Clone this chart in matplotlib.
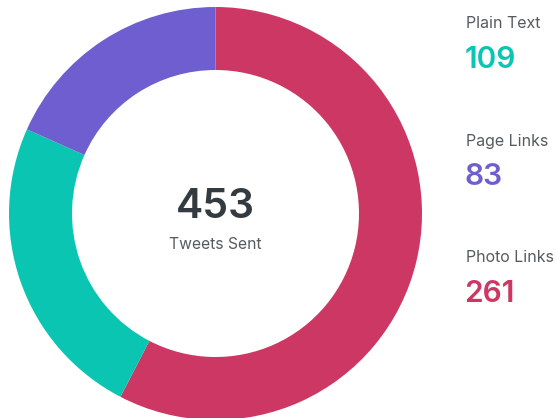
import matplotlib
matplotlib.use("Agg")
import matplotlib.pyplot as plt

# data
categories = ["Photo Links", "Plain Text", "Page Links"]
values = [261, 109, 83]
colors = ["#CC3764", "#0BC5B3", "#6F5ECF"]
legend_order = ["Plain Text", "Page Links", "Photo Links"]
total = sum(values)
center_label = "Tweets Sent"

W, H = 557, 418
fig = plt.figure(figsize=(W / 100, H / 100), dpi=100)
ax = fig.add_axes([0, 0, 1, 1])

cx, cy, r_out, r_in = 215.5, H - 213.5, 206.5, 143.5
ax.pie(values, colors=colors, startangle=90, counterclock=False,
       center=(cx, cy), radius=r_out,
       wedgeprops=dict(width=r_out - r_in, linewidth=0))
ax.set_xlim(0, W)
ax.set_ylim(0, H)
ax.set_aspect("equal")
ax.axis("off")

font = "Inter"
ax.text(cx, H - 218, f"{total}", ha="center", va="baseline", fontsize=29.5,
        fontweight="semibold", color="#333B40", family=font)
ax.text(cx, H - 249, center_label, ha="center", va="baseline", fontsize=11.3,
        color="#555B60", family=font)

lab_y = [28, 146, 262]
num_y = [68, 185, 302]
for name, ly, ny in zip(legend_order, lab_y, num_y):
    i = categories.index(name)
    ax.text(466, H - ly, name, ha="left", va="baseline", fontsize=11.5,
            color="#555B60", family=font)
    ax.text(464.5, H - ny, str(values[i]), ha="left", va="baseline",
            fontsize=21.5, fontweight="semibold", color=colors[i], family=font)

fig.savefig("out.png", dpi=100)
